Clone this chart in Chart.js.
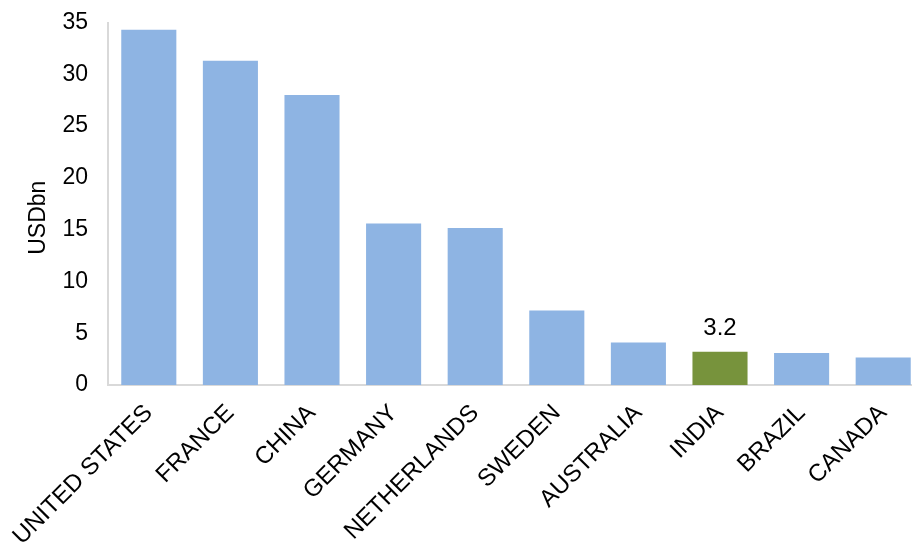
<!DOCTYPE html>
<html>
<head>
<meta charset="utf-8">
<script src="https://cdn.jsdelivr.net/npm/chart.js@4/dist/chart.umd.min.js"></script>
<style>
html,body{margin:0;padding:0;background:#fff;overflow:hidden;}
#wrap{position:relative;width:924px;height:545px;}
</style>
</head>
<body>
<div id="wrap"><canvas id="c" width="924" height="545"></canvas></div>
<script>
const categories = ["UNITED STATES","FRANCE","CHINA","GERMANY","NETHERLANDS","SWEDEN","AUSTRALIA","INDIA","BRAZIL","CANADA"];
const values = [34.3, 31.3, 28.0, 15.6, 15.15, 7.2, 4.1, 3.2, 3.1, 2.65];
const yTicks = [0,5,10,15,20,25,30,35];
const yTitle = "USDbn";
const highlightCategory = "INDIA";
const highlightLabel = "3.2";

const blue = "#8EB4E3", green = "#77933C";
const colors = categories.map(c => c === highlightCategory ? green : blue);
const FONT = "'Liberation Sans', Arial, sans-serif";

const labelPlugin = {
  id: "hl",
  afterDatasetsDraw(chart) {
    const meta = chart.getDatasetMeta(0);
    const i = categories.indexOf(highlightCategory);
    const el = meta.data[i];
    const ctx = chart.ctx;
    ctx.save();
    ctx.font = "24px " + FONT;
    ctx.fillStyle = "#000";
    ctx.textAlign = "center";
    ctx.textBaseline = "alphabetic";
    ctx.fillText(highlightLabel, el.x, el.y - 17);
    // y-axis title
    const ca = chart.chartArea;
    ctx.translate(45, (ca.top + ca.bottom) / 2 + 14);
    ctx.rotate(-Math.PI / 2);
    ctx.font = "23px " + FONT;
    ctx.fillText(yTitle, 0, 0);
    ctx.restore();
  }
};

new Chart(document.getElementById("c"), {
  type: "bar",
  data: {
    labels: categories,
    datasets: [{ data: values, backgroundColor: colors, categoryPercentage: 1, barPercentage: 0.675 }]
  },
  options: {
    responsive: false,
    animation: false,
    layout: { padding: { top: 0, left: 22, right: 0, bottom: 0 } },
    plugins: { legend: { display: false }, tooltip: { enabled: false } },
    scales: {
      x: {
        afterFit(scale) { scale.paddingLeft = 0; scale.paddingRight = 0; scale.height = 160; },
        grid: { display: false, drawTicks: false },
        border: { color: "#D9D9D9", width: 2 },
        ticks: {
          color: "#000", maxRotation: 45, minRotation: 45, padding: 14,
          font: { family: FONT, size: 24 }
        }
      },
      y: {
        min: 0, max: 35,
        afterBuildTicks(axis) { axis.ticks = yTicks.map(v => ({ value: v })); },
        afterFit(scale) { scale.width = 86; scale.paddingTop = 22.5; scale.paddingBottom = 0; },
        grid: { display: false, drawTicks: false },
        border: { color: "#D9D9D9", width: 2 },
        title: { display: false },
        ticks: {
          color: "#000", padding: 20,
          font: { family: FONT, size: 23 }
        }
      }
    }
  },
  plugins: [labelPlugin]
});
</script>
</body>
</html>
